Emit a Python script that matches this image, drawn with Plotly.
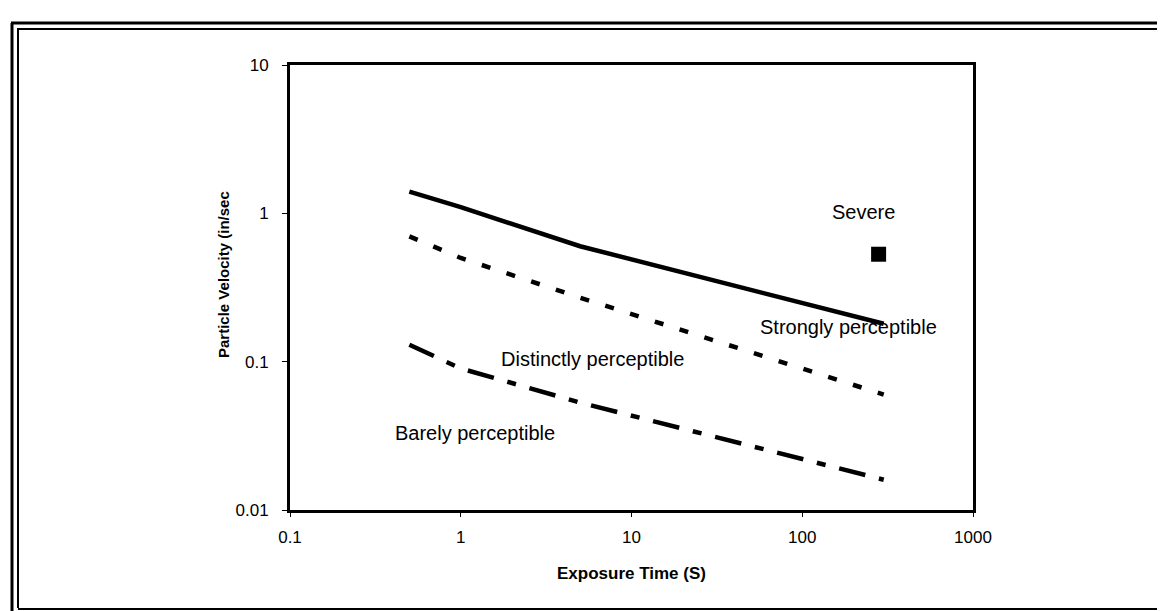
import plotly.graph_objects as go

# ---- data ----
exposure_time = [0.5, 1, 5, 300]
strong_to_severe = [1.4, 1.1, 0.6, 0.18]
distinct_to_strong = [0.7, 0.5, 0.27, 0.06]
barely_to_distinct = [0.13, 0.09, 0.053, 0.016]
severe_x = [280]
severe_y = [0.53]

x_tick_vals = [0.1, 1, 10, 100, 1000]
x_tick_text = ["0.1", "1", "10", "100", "1000"]
y_tick_vals = [0.01, 0.1, 1, 10]
y_tick_text = ["0.01", "0.1", "1", "10"]

region_labels = ["Severe", "Strongly perceptible", "Distinctly perceptible", "Barely perceptible"]

# ---- layout geometry (pixels) ----
W, H = 1165, 611
L, R, T, B = 282, 965, 57, 502
PW, PH = R - L, B - T


def px(xp):
    return (xp - L) / PW


def py(yp):
    return (B - yp) / PH


FONT = "Liberation Sans, Arial, sans-serif"

fig = go.Figure()
fig.add_trace(go.Scatter(x=exposure_time, y=strong_to_severe, mode="lines",
                         line=dict(color="black", width=4.5), showlegend=False))
fig.add_trace(go.Scatter(x=exposure_time, y=distinct_to_strong, mode="lines",
                         line=dict(color="black", width=4.5, dash="9px,17px"), showlegend=False))
fig.add_trace(go.Scatter(x=exposure_time, y=barely_to_distinct, mode="lines",
                         line=dict(color="black", width=4.5, dash="27px,14px,9px,14px"), showlegend=False))
fig.add_trace(go.Scatter(x=severe_x, y=severe_y, mode="markers",
                         marker=dict(symbol="square", size=15, color="black"), showlegend=False))

label_pos = [(855, 204), (840, 319), (584, 351), (467, 425)]
annotations = []
for txt, (xp, yp) in zip(region_labels, label_pos):
    annotations.append(dict(x=px(xp), y=py(yp), xref="paper", yref="paper", text=txt,
                            showarrow=False, xanchor="center", yanchor="middle",
                            font=dict(family=FONT, size=20, color="black")))
annotations.append(dict(x=px(623), y=py(565), xref="paper", yref="paper",
                        text="<b>Exposure Time (S)</b>", showarrow=False,
                        xanchor="center", yanchor="middle",
                        font=dict(family=FONT, size=17, color="black")))
annotations.append(dict(x=px(215), y=py(267), xref="paper", yref="paper",
                        text="<b>Particle Velocity (in/sec</b>", showarrow=False, textangle=-90,
                        xanchor="center", yanchor="middle",
                        font=dict(family=FONT, size=15, color="black")))

# outer double frame
shapes = []
def seg(x0, y0, x1, y1, w):
    shapes.append(dict(type="line", xref="paper", yref="paper",
                       x0=px(x0), y0=py(y0), x1=px(x1), y1=py(y1),
                       line=dict(color="black", width=w)))

seg(3, 15, 1164, 15, 3)
seg(9, 21, 1158, 21, 2)
seg(4, 15, 4, 605, 3)
seg(10, 21, 10, 600, 2)
seg(3, 606, 1165, 606, 3)
seg(10, 601, 1165, 601, 2)
seg(1163, 15, 1163, 125, 2)

fig.update_layout(
    width=W, height=H,
    margin=dict(l=L, r=W - R, t=T, b=H - B, pad=0),
    paper_bgcolor="white", plot_bgcolor="white",
    font=dict(family=FONT, size=17, color="black"),
    annotations=annotations, shapes=shapes,
    showlegend=False,
)
fig.update_xaxes(type="log", range=[-1, 3], tickvals=x_tick_vals, ticktext=x_tick_text,
                 showgrid=False, zeroline=False, showline=True, linecolor="black", linewidth=3,
                 mirror=True, ticks="outside", ticklen=4, tickwidth=1, tickcolor="black",
                 tickfont=dict(family=FONT, size=17, color="black"), ticklabelstandoff=6)
fig.update_yaxes(type="log", range=[-2, 1], tickvals=y_tick_vals, ticktext=y_tick_text,
                 showgrid=False, zeroline=False, showline=True, linecolor="black", linewidth=3,
                 mirror=True, ticks="outside", ticklen=5, tickwidth=1, tickcolor="black",
                 tickfont=dict(family=FONT, size=17, color="black"), ticklabelstandoff=10)

fig.write_html("out.html")
